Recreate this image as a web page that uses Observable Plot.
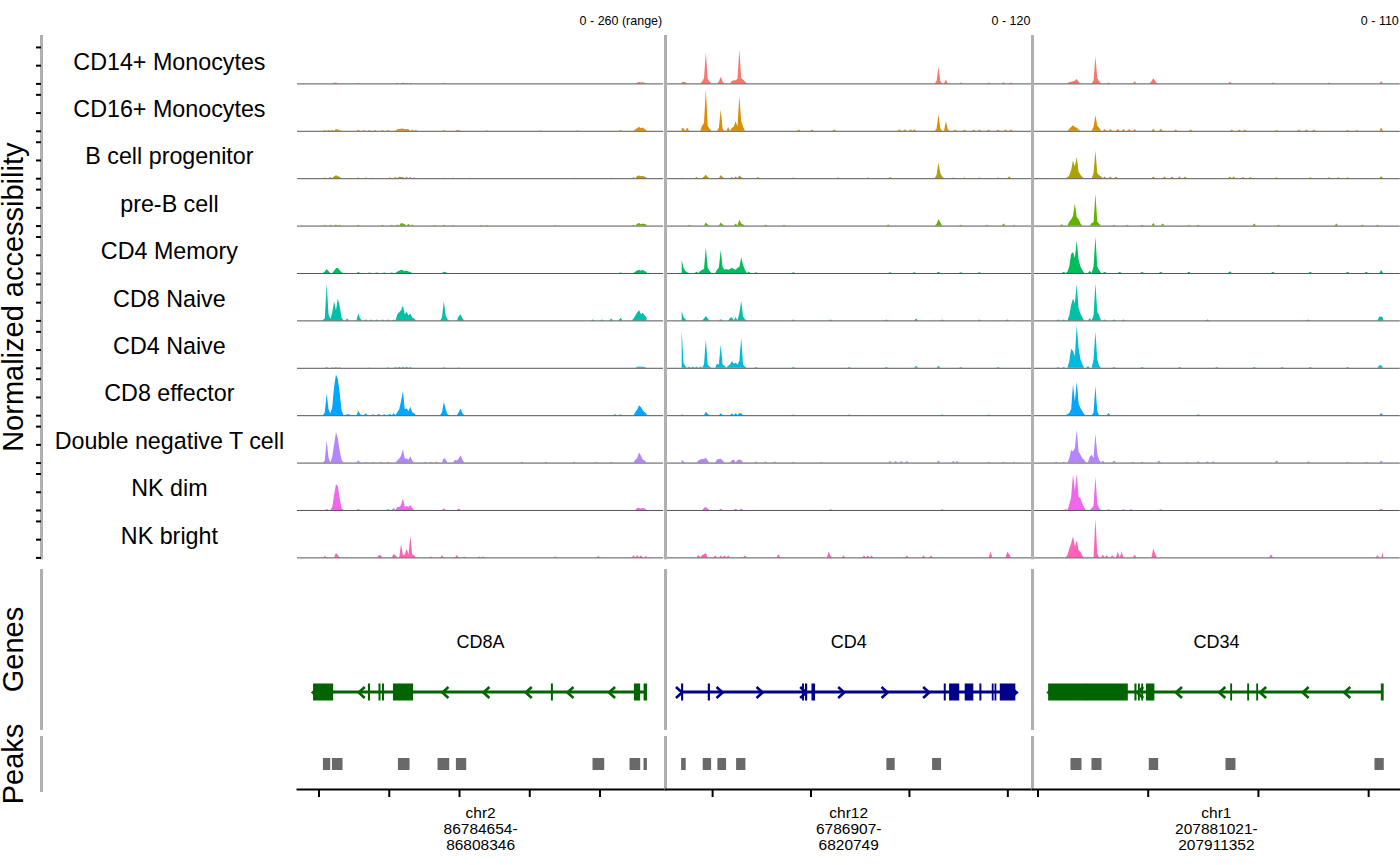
<!DOCTYPE html>
<html>
<head>
<meta charset="utf-8">
<script src="https://cdn.jsdelivr.net/npm/d3@7"></script>
<script src="https://cdn.jsdelivr.net/npm/@observablehq/plot@0.6"></script>
<style>
  html, body { margin: 0; padding: 0; background: white; }
  #chart { position: relative; width: 1400px; height: 865px; overflow: hidden; background: white; }
</style>
</head>
<body>
<div id="chart"></div>
<script>
// ---------------- DATA ----------------
const cellTypes = ["CD14+ Monocytes","CD16+ Monocytes","B cell progenitor","pre-B cell","CD4 Memory","CD8 Naive","CD4 Naive","CD8 effector","Double negative T cell","NK dim","NK bright"];
const cellColors = ["#F8766D","#DB8E00","#AEA200","#64B200","#00BD5C","#00C1A7","#00BADE","#00A6FF","#B385FF","#EF67EB","#FF63B6"];

const regionGenes = ["CD8A","CD4","CD34"];
const regionChrom = ["chr2","chr12","chr1"];
const regionStart = [86784654, 6786907, 207881021];
const regionEnd = [86808346, 6820749, 207911352];
const regionRangeLabel = ["0 - 260 (range)","0 - 120","0 - 110"];
const regionYMax = [260, 120, 110];
const geneStrand = [-1, 1, -1];
const geneColors = ["darkgreen","darkblue","darkgreen"];

const ticksCD8A = [86785000, 86790000, 86795000, 86800000, 86805000];
const ticksCD4 = [6790000, 6800000, 6810000, 6820000];
const ticksCD34 = [207880000, 207890000, 207900000, 207910000];

const yTicksLeft = [0, 100, 200];
const nBins = 180; // coverage bins spanning each region; sparse [bin, value] pairs below

const covCD8A = [
  [[11,4],[12,5],[24,4],[45,4],[48,5],[50,3],[52,4],[70,3],[174,5],[175,7],[176,5],[177,6],[178,4]],
  [[6,5],[8,4],[10,6],[12,10],[13,7],[14,5],[24,6],[27,4],[30,5],[33,4],[37,5],[40,4],[45,8],[46,10],[47,11],[48,12],[49,9],[50,10],[51,8],[53,6],[55,4],[70,4],[77,4],[78,5],[93,3],[122,3],[142,3],[165,5],[173,8],[174,14],[175,22],[176,14],[177,18],[178,9],[179,5]],
  [[6,4],[9,6],[11,10],[12,16],[13,12],[14,6],[24,4],[28,4],[31,3],[41,5],[44,6],[46,8],[47,6],[48,7],[50,8],[52,6],[54,4],[70,3],[75,3],[84,3],[140,3],[160,3],[172,5],[174,12],[175,15],[176,10],[177,14],[178,8],[179,4]],
  [[6,4],[9,5],[12,6],[14,4],[24,5],[37,4],[42,4],[45,6],[47,14],[48,12],[49,8],[51,10],[53,6],[65,3],[70,4],[75,3],[90,3],[93,3],[130,3],[172,4],[174,10],[175,14],[176,8],[177,12],[178,9],[179,4]],
  [[6,8],[7,22],[8,10],[11,12],[12,26],[13,29],[14,15],[15,4],[24,6],[30,3],[34,3],[38,3],[42,3],[45,8],[46,12],[47,18],[48,15],[49,10],[50,14],[51,8],[52,5],[70,7],[71,4],[165,3],[173,8],[174,14],[175,18],[176,12],[177,18],[178,10],[179,5]],
  [[5,4],[6,11],[7,203],[8,33],[9,8],[10,44],[11,103],[12,55],[13,121],[14,77],[15,16],[18,11],[24,38],[25,11],[28,5],[31,5],[34,5],[37,5],[40,5],[43,5],[45,33],[46,44],[47,55],[48,81],[49,33],[50,48],[51,27],[52,38],[53,16],[54,11],[69,16],[70,106],[71,27],[72,5],[78,22],[79,33],[80,11],[150,5],[155,5],[160,11],[165,14],[172,11],[173,27],[174,44],[175,55],[176,33],[177,42],[178,27],[179,16]],
  [[7,4],[10,3],[12,4],[14,3],[30,2],[40,3],[44,4],[46,5],[48,6],[50,5],[52,4],[70,3],[78,2],[174,5],[175,7],[176,5],[177,6],[178,4]],
  [[6,16],[7,119],[8,33],[9,10],[10,44],[11,154],[12,223],[13,197],[14,121],[15,27],[18,5],[19,5],[24,24],[25,5],[28,11],[32,5],[35,8],[38,5],[41,8],[43,11],[45,16],[46,33],[47,77],[48,133],[49,33],[50,37],[51,22],[52,46],[53,16],[54,11],[69,16],[70,73],[71,33],[72,5],[78,16],[79,37],[80,11],[162,5],[165,5],[173,16],[174,31],[175,55],[176,44],[177,27],[178,16],[179,9]],
  [[6,11],[7,122],[8,27],[10,33],[11,99],[12,168],[13,132],[14,66],[15,16],[24,13],[28,5],[32,5],[36,5],[40,5],[45,11],[46,22],[47,38],[48,73],[49,22],[50,22],[51,16],[52,35],[53,11],[60,5],[63,5],[66,5],[70,27],[71,16],[76,16],[77,11],[78,22],[79,40],[80,16],[112,5],[125,5],[140,5],[152,5],[160,5],[173,16],[174,27],[175,55],[176,38],[177,16],[178,11]],
  [[7,5],[10,16],[11,82],[12,141],[13,132],[14,66],[15,11],[24,5],[40,5],[43,11],[45,16],[46,16],[47,27],[48,64],[49,16],[50,22],[51,16],[52,27],[53,11],[70,8],[78,8],[174,11],[175,11],[176,8],[177,11],[178,8]],
  [[6,8],[12,26],[13,11],[35,11],[36,11],[43,18],[44,11],[47,73],[48,11],[49,16],[50,46],[51,16],[52,119],[53,16],[54,11],[63,5],[69,11],[77,13],[81,5],[89,5],[91,5],[130,5],[153,8],[172,11],[174,11],[176,11],[179,13]]
];

const covCD4 = [
  [[0,3],[1,4],[2,3],[11,5],[12,13],[13,78],[14,12],[15,5],[20,5],[21,17],[22,4],[27,6],[28,8],[29,8],[30,12],[31,86],[32,13],[33,10],[34,5],[137,6],[138,42],[139,6],[142,10],[150,2],[165,2],[173,3],[177,2]],
  [[0,8],[1,6],[3,8],[11,13],[12,20],[13,106],[14,13],[15,5],[20,8],[21,54],[22,5],[25,9],[27,8],[28,10],[29,24],[30,10],[31,88],[32,25],[33,10],[63,3],[70,3],[82,3],[117,4],[120,4],[123,4],[125,4],[137,5],[138,41],[139,6],[142,24],[143,4],[147,3],[152,3],[157,3],[160,3],[165,3],[170,3],[174,3],[177,3]],
  [[0,2],[8,3],[12,4],[13,9],[14,3],[21,8],[22,3],[27,3],[29,4],[31,7],[32,3],[41,3],[60,2],[84,2],[100,2],[112,3],[137,8],[138,40],[139,13],[140,4],[146,2],[152,2],[160,2],[170,2],[176,5]],
  [[4,2],[13,8],[14,3],[21,8],[22,3],[29,5],[31,15],[32,5],[33,3],[45,2],[55,2],[111,3],[137,4],[138,17],[139,8],[150,2],[164,2],[173,5],[179,3]],
  [[0,33],[1,13],[2,5],[3,2],[8,3],[10,5],[11,8],[12,10],[13,65],[14,13],[15,5],[19,8],[20,13],[21,58],[22,15],[23,8],[24,10],[25,8],[26,10],[27,13],[28,10],[29,8],[30,13],[31,15],[32,39],[33,20],[34,8],[36,3],[40,2],[60,2],[112,2],[125,2],[138,3],[150,2],[160,2]],
  [[0,24],[1,8],[2,3],[12,5],[13,11],[14,5],[21,3],[26,6],[27,8],[29,8],[31,18],[32,50],[33,10],[34,3],[60,2],[80,2],[110,2],[126,5],[140,2],[160,2],[175,2]],
  [[0,97],[1,13],[2,4],[4,3],[6,3],[8,3],[10,3],[12,8],[13,72],[14,8],[15,3],[19,10],[20,8],[21,59],[22,8],[23,5],[25,5],[26,8],[27,17],[28,10],[29,13],[30,8],[31,17],[32,76],[33,8],[34,3],[40,2],[60,2],[90,2],[110,2],[126,5],[138,5],[150,2],[170,2]],
  [[0,3],[13,9],[14,3],[21,5],[27,5],[29,5],[31,5],[32,5],[60,2],[90,2],[140,2],[165,2]],
  [[0,8],[1,3],[9,5],[10,8],[11,9],[12,9],[13,12],[14,5],[19,8],[20,9],[21,10],[22,5],[27,6],[28,8],[30,6],[31,8],[32,6],[40,3],[45,3],[50,3],[60,2],[75,2],[112,4],[115,4],[118,4],[121,4],[138,5],[146,4],[148,4],[165,2],[173,2],[179,3]],
  [[12,5],[13,8],[14,3],[21,3],[29,3],[32,3],[80,2],[140,2]],
  [[9,6],[11,6],[12,8],[13,11],[18,5],[21,5],[23,5],[25,5],[34,5],[52,8],[79,14],[80,4],[87,5],[98,5],[100,5],[102,5],[121,5],[130,5],[134,5],[166,14],[175,14],[176,8]]
];

const covCD34 = [
  [[11,3],[12,4],[13,5],[14,7],[15,10],[16,4],[24,7],[25,63],[26,12],[27,5],[32,2],[46,5],[55,5],[56,12],[57,6],[97,4],[120,2],[150,2],[178,5]],
  [[11,4],[12,9],[13,13],[14,9],[15,7],[16,3],[24,9],[25,36],[26,12],[27,7],[30,4],[33,4],[37,4],[40,4],[43,4],[46,4],[56,5],[60,5],[68,3],[76,3],[98,3],[102,3],[105,3],[122,2],[134,3],[138,3],[142,3],[160,2],[165,2],[178,7]],
  [[10,2],[11,6],[12,19],[13,41],[14,27],[15,50],[16,15],[17,8],[18,3],[24,12],[25,64],[26,12],[27,7],[28,4],[30,4],[33,4],[36,4],[56,4],[62,4],[66,4],[70,4],[73,4],[97,4],[99,4],[104,3],[108,3],[122,2],[140,2],[150,2],[155,2],[160,2],[178,5]],
  [[7,3],[11,9],[12,14],[13,22],[14,51],[15,20],[16,15],[17,5],[23,6],[24,8],[25,74],[26,9],[27,4],[35,2],[42,2],[50,2],[56,6],[61,5],[75,2],[80,2],[110,5],[123,2],[154,5],[168,2],[176,2]],
  [[8,3],[10,3],[11,15],[12,44],[13,49],[14,35],[15,75],[16,30],[17,15],[18,7],[22,5],[24,15],[25,84],[26,15],[27,7],[30,3],[38,3],[50,3],[60,3],[75,3],[97,4],[120,3],[140,3],[160,3],[170,3],[178,7]],
  [[5,2],[8,2],[11,12],[12,36],[13,51],[14,39],[15,84],[16,28],[17,16],[18,7],[22,5],[24,12],[25,86],[26,20],[27,12],[30,2],[35,2],[40,2],[85,2],[139,2],[177,9],[178,9],[179,6]],
  [[5,2],[8,2],[11,15],[12,44],[13,39],[14,27],[15,99],[16,46],[17,19],[18,8],[21,4],[24,19],[25,84],[26,19],[27,5],[35,2],[50,2],[70,2],[90,2],[110,2],[125,2],[140,2],[160,2],[177,6],[178,6]],
  [[10,2],[11,5],[12,14],[13,72],[14,32],[15,78],[16,28],[17,16],[18,9],[19,2],[24,6],[25,68],[26,9],[32,5],[80,2],[178,5]],
  [[4,2],[8,2],[11,10],[12,29],[13,26],[14,33],[15,76],[16,26],[17,18],[18,10],[19,6],[22,14],[23,18],[24,10],[25,67],[26,20],[27,6],[29,4],[35,5],[45,2],[50,2],[59,5],[74,2],[80,3],[85,3],[88,3],[122,5],[139,3],[160,2],[170,2],[178,5]],
  [[9,2],[11,12],[12,30],[13,83],[14,46],[15,84],[16,31],[17,27],[18,15],[19,5],[23,4],[24,10],[25,77],[26,15],[27,4],[32,2],[40,2],[44,2],[60,2],[178,3]],
  [[10,5],[11,20],[12,32],[13,49],[14,25],[15,39],[16,17],[17,13],[18,4],[25,91],[26,9],[29,6],[31,5],[34,5],[37,13],[39,13],[46,6],[56,21],[57,8],[119,7],[176,5],[179,13]]
];

// gene models: exons [start, end], chevron (strand arrow) tip positions
const exonsCD8A = [[86784654,86786000],[86788560,86788620],[86789310,86789370],[86789560,86789620],[86790340,86790700],[86790760,86791690],[86801580,86801640],[86807490,86807850],[86808180,86808346]];
const chevronsCD8A = [86784560, 86787826, 86793783, 86796701, 86799712, 86802680, 86805641];
const exonsCD4 = [[6786907,6787000],[6789620,6789720],[6799200,6799280],[6799500,6799600],[6800160,6800400],[6813600,6813680],[6814140,6815050],[6815730,6816480],[6817220,6817300],[6818480,6818540],[6818760,6818820],[6819290,6820749]];
const chevronsCD4 = [6786890, 6791016, 6795080, 6799509, 6803370, 6807779, 6812006, 6820900];
const exonsCD34 = [[207881021,207884400],[207884440,207888140],[207888850,207888930],[207889170,207889230],[207889470,207889530],[207889890,207890550],[207897540,207897600],[207899080,207899140],[207899900,207899960],[207911207,207911352]];
const chevronsCD34 = [207880934, 207889000, 207892519, 207896448, 207900150, 207904013, 207907787];

// peaks
const peaksCD8A = [[86785313,86785833],[86785954,86786708],[86790651,86791477],[86793470,86794302],[86794779,86795512],[86804502,86805335],[86807135,86807897],[86808132,86808374]];
const peaksCD4 = [[6786851,6787318],[6789045,6789898],[6790538,6791422],[6792438,6793383],[6807708,6808551],[6812351,6813265]];
const peaksCD34 = [[207882994,207883992],[207884899,207885806],[207890097,207890950],[207897055,207897962],[207910572,207911416]];

// ---------------- LAYOUT / STYLE ----------------
const FONT = "'Liberation Sans', Arial, Helvetica, sans-serif";
const panelLeft = [296.8, 664.6, 1031.5];
const panelWidth = [366.2, 366.4, 367.8];
const covTop = 36, trackH = 47.4, covBottom = 2;
const covHeight = covTop + cellTypes.length * trackH + covBottom;
const genesTop = 570, genesHeight = 158;
const peaksTop = 737, peaksFrame = 52, peaksBelow = 76;
const sepColor = "#b0b0b0";

const coverage = [covCD8A, covCD4, covCD34];
const exons = [exonsCD8A, exonsCD4, exonsCD34];
const chevrons = [chevronsCD8A, chevronsCD4, chevronsCD34];
const peaks = [peaksCD8A, peaksCD4, peaksCD34];
const ticks = [ticksCD8A, ticksCD4, ticksCD34];

const root = document.getElementById("chart");
function mount(svg, left, top) {
  svg.style.position = "absolute";
  svg.style.left = left + "px";
  svg.style.top = top + "px";
  svg.style.overflow = "visible";
  svg.style.background = "transparent";
  svg.style.fontFamily = FONT;
  svg.style.maxWidth = "none";
  root.appendChild(svg);
}

const chevronSymbol = {
  draw(ctx, size) {
    const s = Math.sqrt(size / Math.PI);
    ctx.moveTo(-1.1 * s, -s);
    ctx.lineTo(0, 0);
    ctx.lineTo(-1.1 * s, s);
  }
};

function denseRows(r) {
  const rows = [];
  const start = regionStart[r], end = regionEnd[r];
  cellTypes.forEach((ct, k) => {
    const vals = new Array(nBins).fill(0);
    for (const [b, v] of coverage[r][k]) vals[b] = v;
    vals.forEach((v, i) => rows.push({ct, pos: start + i * (end - start) / (nBins - 1), v}));
  });
  return rows;
}

const titleOpts = {frameAnchor: "left", dx: -27.5, rotate: -90, textAnchor: "middle", fontSize: 29, fill: "black"};

// ---------------- LEFT COLUMN ----------------
mount(Plot.plot({
  width: panelLeft[0], height: covHeight,
  marginLeft: 41, marginRight: 0, marginTop: covTop, marginBottom: covBottom,
  y: {domain: [0, regionYMax[0]], axis: null},
  fy: {domain: cellTypes, padding: 0, axis: null, round: false},
  marks: [
    Plot.frame({anchor: "left", stroke: sepColor, strokeWidth: 3}),
    Plot.axisY({ticks: yTicksLeft, tickSize: 5, tickFormat: () => "", anchor: "left", stroke: "black", strokeWidth: 2, label: null}),
    Plot.text(cellTypes, {fy: d => d, text: d => d, frameAnchor: "middle", dy: 2, fontSize: 23.3, fill: "black"}),
    Plot.text(["Normalized accessibility"], {fy: [cellTypes[5]], ...titleOpts})
  ]
}), 0, 0);

mount(Plot.plot({
  width: panelLeft[0], height: genesHeight,
  marginLeft: 41, marginRight: 0, marginTop: 0, marginBottom: 0,
  marks: [
    Plot.frame({anchor: "left", stroke: sepColor, strokeWidth: 3}),
    Plot.text(["Genes"], titleOpts)
  ]
}), 0, genesTop);

mount(Plot.plot({
  width: panelLeft[0], height: peaksFrame + 1,
  marginLeft: 41, marginRight: 0, marginTop: 0, marginBottom: 0,
  marks: [
    Plot.frame({anchor: "left", stroke: sepColor, strokeWidth: 3}),
    Plot.text(["Peaks"], titleOpts)
  ]
}), 0, peaksTop);

// ---------------- REGION PANELS ----------------
for (let r = 0; r < 3; r++) {
  const start = regionStart[r], end = regionEnd[r];
  const pad = 0.05 * (end - start);
  const xDomain = [start - pad, end + pad];
  const W = panelWidth[r];
  const sep = r > 0 ? Plot.frame({anchor: "left", stroke: sepColor, strokeWidth: 3}) : null;

  // coverage tracks
  mount(Plot.plot({
    width: W, height: covHeight,
    marginLeft: 0, marginRight: 0, marginTop: covTop, marginBottom: covBottom,
    x: {domain: xDomain, axis: null},
    y: {domain: [0, regionYMax[r]], axis: null},
    fy: {domain: cellTypes, padding: 0, axis: null, round: false},
    color: {domain: cellTypes, range: cellColors},
    marks: [
      Plot.areaY(denseRows(r), {x: "pos", y1: 0, y2: "v", fy: "ct", fill: "ct", curve: "linear"}),
      Plot.ruleY([0], {stroke: "#555", strokeWidth: 1}),
      sep,
      Plot.text([regionRangeLabel[r]], {fy: [cellTypes[0]], text: d => d, frameAnchor: "top-right", textAnchor: "end", dx: -1.5, dy: -20, fontSize: 12.5, fill: "black"})
    ]
  }), panelLeft[r], 0);

  // gene track
  const gc = geneColors[r];
  mount(Plot.plot({
    width: W, height: genesHeight, margin: 0,
    x: {domain: xDomain, axis: null},
    marks: [
      sep,
      Plot.barX([[start, end]], {x1: d => d[0], x2: d => d[1], fill: gc, insetTop: 120.5, insetBottom: 34.5}),
      Plot.barX(exons[r], {x1: d => d[0], x2: d => d[1], fill: gc, insetTop: 113.5, insetBottom: 27.5, insetLeft: -0.6, insetRight: -0.6}),
      Plot.dot(chevrons[r], {x: d => d, frameAnchor: "top", dy: 122, symbol: chevronSymbol, r: 5.5, stroke: gc, strokeWidth: 2.6, fill: "none", rotate: geneStrand[r] < 0 ? 180 : 0}),
      Plot.text([regionGenes[r]], {x: [(start + end) / 2], text: d => d, frameAnchor: "top", dy: 65, fontSize: 18, fill: "black"})
    ]
  }), panelLeft[r], genesTop);

  // peaks + genomic axis
  mount(Plot.plot({
    width: W, height: peaksFrame + peaksBelow,
    marginLeft: 0, marginRight: 0, marginTop: 0, marginBottom: peaksBelow,
    x: {domain: xDomain},
    marks: [
      sep,
      Plot.barX(peaks[r], {x1: d => d[0], x2: d => d[1], fill: "dimgray", insetTop: 21, insetBottom: 19}),
      Plot.frame({anchor: "bottom", stroke: "black", strokeWidth: 2}),
      Plot.axisX({ticks: ticks[r], tickSize: 8, tickFormat: () => "", stroke: "black", strokeWidth: 2, label: null}),
      Plot.text([`${regionChrom[r]}\n${regionStart[r]}-\n${regionEnd[r]}`], {text: d => d, frameAnchor: "bottom", lineAnchor: "top", dy: 17, lineHeight: 1.04, fontSize: 15.5, fill: "black"})
    ]
  }), panelLeft[r], peaksTop);
}
</script>
</body>
</html>
